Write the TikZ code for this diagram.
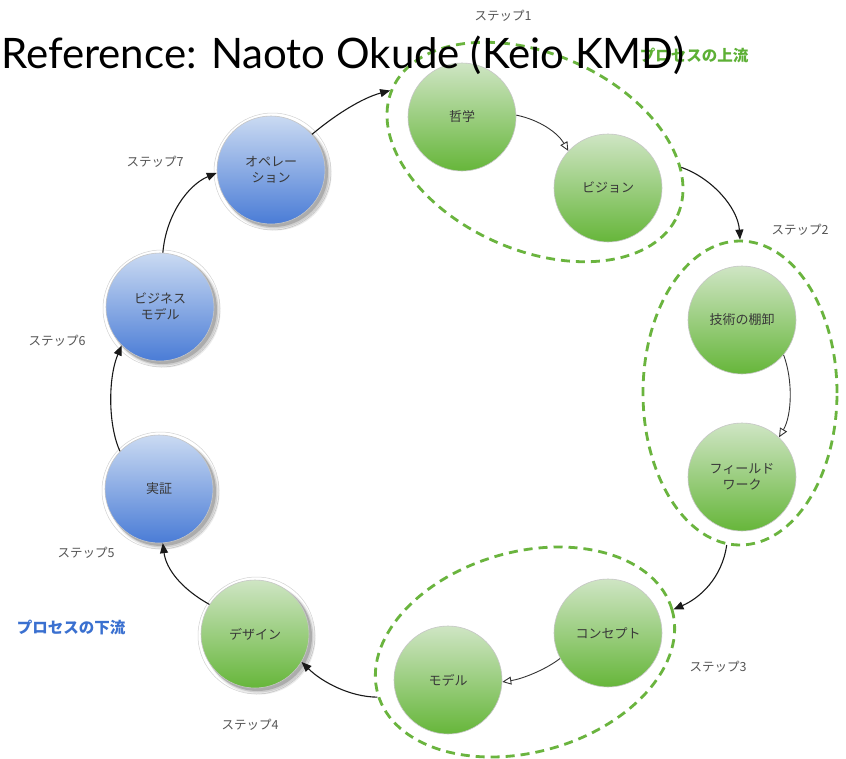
\documentclass[tikz,border=0pt]{standalone}
\usepackage{fontspec}
\setmainfont{Lato}
\newfontfamily\jp{Noto Sans CJK JP}
\usetikzlibrary{shapes.geometric,arrows.meta}
\definecolor{gtop}{HTML}{CFE5C4}
\definecolor{gbot}{HTML}{66B63A}
\definecolor{btop}{HTML}{CADAF2}
\definecolor{bbot}{HTML}{4A7CD6}
\definecolor{dashg}{HTML}{6AB43E}
\definecolor{lbl}{HTML}{555555}
\definecolor{upg}{HTML}{5DB035}
\definecolor{dnb}{HTML}{3A70D0}
\tikzset{
  proc/.style={circle, minimum size=108pt, inner sep=0pt, draw=gray!45, line width=0.6pt,
    font=\jp\fontsize{13}{16}\selectfont, text=black!78, align=center},
  grn/.style={proc, top color=gtop, bottom color=gbot},
  blu/.style={proc, top color=btop, bottom color=bbot},
  grp/.style={ellipse, draw=dashg, line width=2.8pt, dash pattern=on 9pt off 6pt, inner sep=0pt},
  flow/.style={draw=black!90, line width=1.1pt, -{Triangle[length=10pt,width=8pt]}},
  inflow/.style={draw=black!80, line width=0.9pt, -{Triangle[open,length=9pt,width=8pt,fill=white]}},
  steplbl/.style={font=\jp\fontsize{12.5}{14}\selectfont, text=lbl},
  shad/.pic={
    \draw[gray!35, fill=white, line width=0.5pt] (1.5,1.5) circle (58.5pt);
    \fill[black, opacity=0.08] (4.5,4.5) circle (56pt);
    \fill[black, opacity=0.12] (3.5,3.5) circle (55pt);
    \fill[black, opacity=0.16] (2.5,2.5) circle (54.5pt);
  }
}
\begin{document}
\begin{tikzpicture}[x=1pt,y=-1pt]
\fill[white] (0,0) rectangle (846,758);
\useasboundingbox (0,0) rectangle (846,758);

% shadows
\pic at (159,489) {shad};
\pic at (160,307) {shad};
\pic at (271,170) {shad};
\pic at (255,634) {shad};

% process circles
\node[grn] (phil) at (462,117) {哲学};
\node[grn] (vis) at (608,188) {ビジョン};
\node[grn] (tech) at (742,320) {技術の棚卸};
\node[grn] (field) at (742,477) {フィールド\\ワーク};
\node[grn] (conc) at (608,633) {コンセプト};
\node[grn] (model) at (448,680) {モデル};
\node[grn] (design) at (255,634) {デザイン};
\node[blu] (proof) at (159,489) {実証};
\node[blu] (biz) at (160,307) {ビジネス\\モデル};
\node[blu] (ops) at (271,170) {オペレー\\ション};

% group ellipses
\node[grp, minimum width=312pt, minimum height=196pt, rotate=-24] (g1) at (535,152) {};
\node[grp, minimum width=194pt, minimum height=304pt] (g2) at (740,393) {};
\node[grp, minimum width=306pt, minimum height=200pt, rotate=16] (g3) at (525,652) {};

% outer cycle
\draw[flow] (ops.41) .. controls (335,115) and (362,98) .. (g1.181);
\draw[flow] (g1.18) .. controls (712,178) and (738,208) .. (g2.90);
\draw[flow] (g2.265) .. controls (722,578) and (700,598) .. (g3.0);
\draw[flow] (g3.181) .. controls (350,697) and (322,682) .. (design.-31);
\draw[flow] (design.147) .. controls (180,588) and (166,568) .. (proof.-86);
\draw[flow] (proof.136) .. controls (108,425) and (108,378) .. (biz.225);
\draw[flow] (biz.87) .. controls (166,215) and (188,185) .. (ops.183);

% inner arrows
\draw[inflow] (phil.2) .. controls (540,120) and (558,133) .. (vis.137);
\draw[inflow] (tech.-40) .. controls (793,380) and (792,415) .. (field.47);
\draw[inflow] (conc.208) .. controls (545,670) and (522,679) .. (model.-2);

% step labels
\node[steplbl] (s1) at (503,16) {ステップ1};
\node[steplbl] (s2) at (800,230) {ステップ2};
\node[steplbl] (s3) at (718,667) {ステップ3};
\node[steplbl] (s4) at (250,725) {ステップ4};
\node[steplbl] (s5) at (86,553) {ステップ5};
\node[steplbl] (s6) at (57,341) {ステップ6};
\node[steplbl] (s7) at (155,162) {ステップ7};

\node[font=\jp\bfseries\fontsize{15.5}{18}\selectfont, text=upg] (up) at (694,55) {プロセスの上流};
\node[font=\jp\bfseries\fontsize{15.5}{18}\selectfont, text=dnb] (down) at (71,627) {プロセスの下流};

% title
\node[anchor=base west, inner sep=0pt, font=\fontsize{42}{48}\selectfont, text=black] (title) at (1,68) {Reference: Naoto Okude (Keio KMD)};
\end{tikzpicture}
\end{document}
